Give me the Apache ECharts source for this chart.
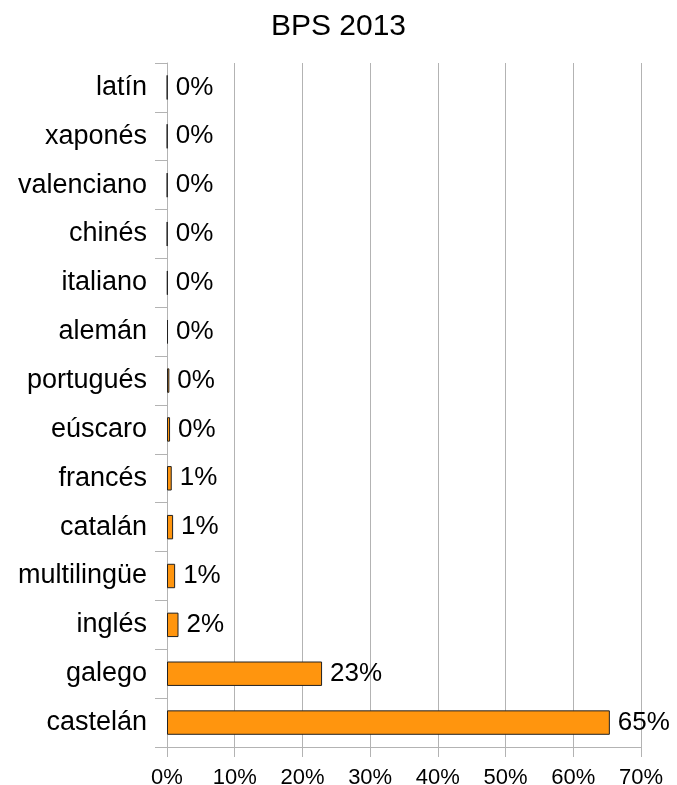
<!DOCTYPE html>
<html>
<head>
<meta charset="utf-8">
<title>BPS 2013</title>
<script src="https://cdn.jsdelivr.net/npm/echarts@6/dist/echarts.min.js"></script>
<style>
  html, body { margin: 0; padding: 0; background: #fff; }
  #barchart01 { width: 677px; height: 785px; }
</style>
</head>
<body>
<div id="barchart01"></div>
<script>
// datos (de abaixo cara arriba)
var categorias = ['castelán', 'galego', 'inglés', 'multilingüe', 'catalán', 'francés', 'eúscaro',
    'portugués', 'alemán', 'italiano', 'chinés', 'valenciano', 'xaponés', 'latín'];
var porcentaxes = [65.4, 22.9, 1.7, 1.2, 0.9, 0.7, 0.45, 0.35, 0.15, 0.1, 0.05, 0.05, 0.05, 0.05];
var ticksX = [0, 10, 20, 30, 40, 50, 60, 70];

var myChart = echarts.init(document.getElementById('barchart01'));

var option = {
    animation: false,
    title: {
        text: 'BPS 2013',
        left: 'center',
        top: 7,
        textStyle: {
            fontFamily: 'Liberation Sans',
            fontSize: 30,
            fontWeight: 'normal',
            color: '#000'
        }
    },
    grid: {
        left: 167,
        right: 36,
        top: 63,
        bottom: 38,
        containLabel: false,
        outerBoundsMode: 'none'   // v6: non encoller a grella polas etiquetas
    },
    xAxis: {
        type: 'value',
        min: ticksX[0],
        max: ticksX[ticksX.length - 1],
        interval: 10,
        axisLine: {
            show: true,
            lineStyle: { color: '#b3b3b3', width: 1 }
        },
        axisTick: {
            show: true,
            length: 10,
            lineStyle: { color: '#b3b3b3' }
        },
        axisLabel: {
            margin: 20,
            formatter: '{value}%',
            fontFamily: 'Liberation Sans',
            fontSize: 22,
            color: '#000'
        },
        splitLine: {
            show: true,
            lineStyle: { color: '#b3b3b3', width: 1 }
        }
    },
    yAxis: {
        type: 'category',
        data: categorias,
        axisLine: {
            show: true,
            lineStyle: { color: '#b3b3b3', width: 1 }
        },
        axisTick: {
            show: true,
            length: 12,
            lineStyle: { color: '#b3b3b3' }
        },
        axisLabel: {
            margin: 20,
            fontFamily: 'Liberation Sans',
            fontSize: 27,
            color: '#000'
        }
    },
    series: [{
        name: 'BPS 2013',
        type: 'bar',
        data: porcentaxes,
        barWidth: '50%',
        itemStyle: {
            color: '#ff950e',
            borderColor: '#222',
            borderWidth: 1
        },
        label: {
            show: true,
            position: 'right',
            distance: 8,
            fontFamily: 'Liberation Sans',
            fontSize: 26,
            color: '#000',
            formatter: function (p) { return Math.round(p.value) + '%'; }
        }
    }]
};

myChart.setOption(option);
</script>
</body>
</html>
